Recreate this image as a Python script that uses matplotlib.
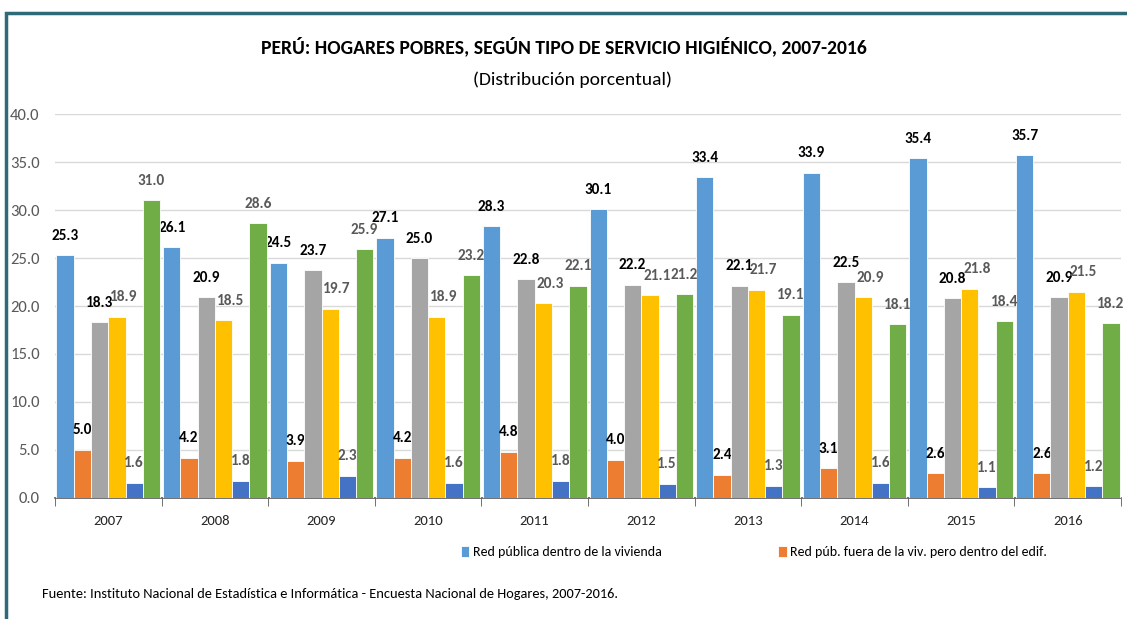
import matplotlib.pyplot as plt
import numpy as np
from matplotlib.patches import Rectangle

years = ["2007", "2008", "2009", "2010", "2011", "2012", "2013", "2014", "2015", "2016"]
red_dentro = [25.3, 26.1, 24.5, 27.1, 28.3, 30.1, 33.4, 33.9, 35.4, 35.7]
red_fuera = [5.0, 4.2, 3.9, 4.2, 4.8, 4.0, 2.4, 3.1, 2.6, 2.6]
serie_gris = [18.3, 20.9, 23.7, 25.0, 22.8, 22.2, 22.1, 22.5, 20.8, 20.9]
serie_amarilla = [18.9, 18.5, 19.7, 18.9, 20.3, 21.1, 21.7, 20.9, 21.8, 21.5]
serie_azul = [1.6, 1.8, 2.3, 1.6, 1.8, 1.5, 1.3, 1.6, 1.1, 1.2]
serie_verde = [31.0, 28.6, 25.9, 23.2, 22.1, 21.2, 19.1, 18.1, 18.4, 18.2]

series = [red_dentro, red_fuera, serie_gris, serie_amarilla, serie_azul, serie_verde]
names = ["Red pública dentro de la vivienda",
         "Red púb. fuera de la viv. pero dentro del edif.",
         None, None, None, None]
colors = ["#5B9BD5", "#ED7D31", "#A5A5A5", "#FFC000", "#4472C4", "#70AD47"]
label_colors = ["black", "black", "black", "#595959", "#595959", "#595959"]
label_dx = [0, 0, 0, 5, 0, 0]

plt.rcParams['font.family'] = ['Carlito', 'Open Sans', 'DejaVu Sans']

fig = plt.figure(figsize=(11.27, 6.19), dpi=100)
ax = fig.add_axes([0.0488, 0.1955, 0.9459, 0.6203])

x = np.arange(len(years))
w = 0.162
for k, (vals, name, c) in enumerate(zip(series, names, colors)):
    pos = x + (k - 2.5) * w
    ax.bar(pos, vals, w, color=c, edgecolor="white", linewidth=0.6,
           label=name if name else "_nolegend_", zorder=3)
    for p, v in zip(pos, vals):
        ax.annotate(f"{v:.1f}", (p, v), xytext=(label_dx[k], 9), textcoords="offset points",
                    ha="center", va="bottom", fontsize=11,
                    color=label_colors[k], fontweight="bold")

ax.set_xlim(-0.5, len(years) - 0.5)
ax.set_ylim(0, 40)
ax.set_yticks(np.arange(0, 41, 5))
ax.set_yticklabels([f"{v:.1f}" for v in np.arange(0, 41, 5)], fontsize=12, color="#595959")
ax.set_xticks(x)
ax.set_xticklabels(years, fontsize=10.5, color="#262626")
ax.set_xticks(np.arange(-0.5, len(years)), minor=True)
ax.tick_params(axis="x", which="major", length=0, pad=12)
ax.tick_params(axis="x", which="minor", length=6, color="#595959", direction="out")
ax.tick_params(axis="y", length=0, pad=11)
ax.grid(axis="y", color="#D9D9D9", linewidth=1, zorder=0)
for s in ["top", "right", "left"]:
    ax.spines[s].set_visible(False)
ax.spines["bottom"].set_color("#595959")
ax.spines["bottom"].set_linewidth(1.2)

fig.text(0.5, 0.925, "PERÚ: HOGARES POBRES, SEGÚN TIPO DE SERVICIO HIGIÉNICO, 2007-2016",
         ha="center", va="center", fontsize=14.1, fontweight="bold", color="black")
fig.text(0.508, 0.872, "(Distribución porcentual)", ha="center", va="center",
         fontsize=14, color="black")

fig.legend(loc="center left", bbox_to_anchor=(0.398, 0.108), ncol=2, frameon=False,
           fontsize=10, handlelength=0.6, handleheight=0.9, handletextpad=0.25,
           columnspacing=8.4)

fig.text(0.037, 0.04, "Fuente: Instituto Nacional de Estadística e Informática - Encuesta Nacional de Hogares, 2007-2016.",
         ha="left", va="center", fontsize=10.35, color="black")

# chart border
fig.patches.append(Rectangle((0.005, -0.02), 1.2, 0.999, transform=fig.transFigure,
                             fill=False, edgecolor="#2E6A78", linewidth=2.5))

fig.savefig("out.png", dpi=100)
